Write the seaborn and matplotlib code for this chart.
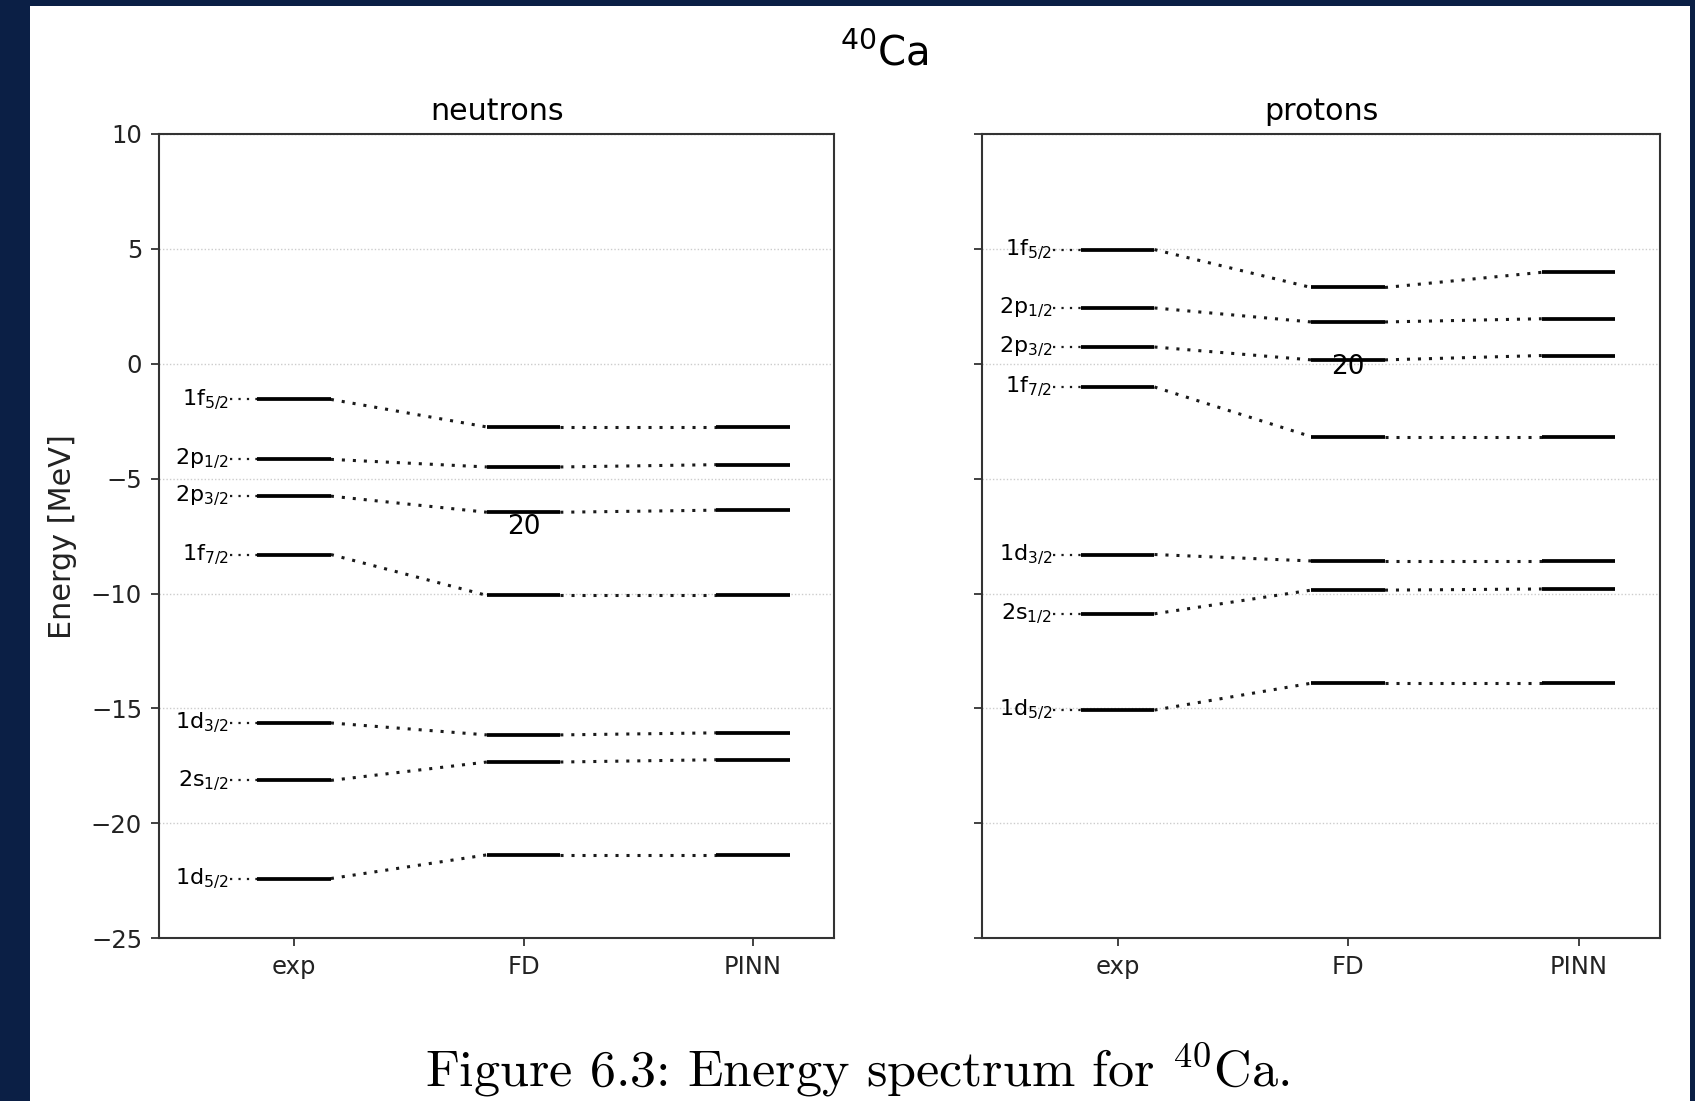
import numpy as np
import pandas as pd
import matplotlib
matplotlib.use("Agg")
import matplotlib.pyplot as plt
import seaborn as sns
from matplotlib.patches import Rectangle

# ---------------- data ----------------
methods = ["exp", "FD", "PINN"]
levels = [r"1f$_{5/2}$", r"2p$_{1/2}$", r"2p$_{3/2}$", r"1f$_{7/2}$",
          r"1d$_{3/2}$", r"2s$_{1/2}$", r"1d$_{5/2}$"]

neutron_exp = [-1.55, -4.16, -5.76, -8.30, -15.63, -18.13, -22.40]
neutron_fd = [-2.75, -4.49, -6.46, -10.08, -16.15, -17.33, -21.37]
neutron_pinn = [-2.75, -4.39, -6.37, -10.08, -16.06, -17.23, -21.37]

proton_exp = [4.97, 2.43, 0.73, -1.01, -8.30, -10.88, -15.07]
proton_fd = [3.32, 1.82, 0.17, -3.17, -8.58, -9.85, -13.90]
proton_pinn = [3.98, 1.96, 0.36, -3.17, -8.58, -9.80, -13.90]

magic_label = "20"
magic_y = {"neutrons": -7.1, "protons": -0.15}

panels = {
    "neutrons": [neutron_exp, neutron_fd, neutron_pinn],
    "protons": [proton_exp, proton_fd, proton_pinn],
}

# ---------------- style ----------------
sns.set_theme(style="white")
plt.rcParams["font.family"] = ["DejaVu Sans"]
plt.rcParams["axes.unicode_minus"] = True
plt.rcParams["text.color"] = "black"
plt.rcParams["xtick.color"] = "black"
plt.rcParams["ytick.color"] = "black"
plt.rcParams["axes.labelcolor"] = "black"

W, H = 1695, 1101
fig = plt.figure(figsize=(W / 100, H / 100), dpi=100)
fig.patch.set_facecolor("#0b1f45")
fig.patches.append(Rectangle((30 / W, 0), (1690 - 30) / W, 1 - 6 / H,
                             transform=fig.transFigure, facecolor="white",
                             edgecolor="none", zorder=-10))

ax_l = fig.add_axes([0.0937, 0.1478, 0.4923 - 0.0937, 0.8783 - 0.1478])
ax_r = fig.add_axes([0.5791, 0.1478, 0.9796 - 0.5791, 0.8783 - 0.1478], sharey=ax_l)

HW = 0.16  # half width of a level bar

for ax, (name, series) in zip([ax_l, ax_r], panels.items()):
    ax.set_facecolor("white")
    seg_rows, con_rows = [], []
    for m, vals in enumerate(series):
        for k, e in enumerate(vals):
            seg_rows += [dict(x=m - HW, E=e, u=f"{m}-{k}"),
                         dict(x=m + HW, E=e, u=f"{m}-{k}")]
            if m > 0:
                con_rows += [dict(x=m - 1 + HW, E=series[m - 1][k], u=f"{m}-{k}"),
                             dict(x=m - HW, E=e, u=f"{m}-{k}")]
    seg = pd.DataFrame(seg_rows)
    con = pd.DataFrame(con_rows)
    sns.lineplot(data=con, x="x", y="E", units="u", estimator=None, sort=False,
                 color="#1a1a1a", lw=2.2, linestyle=(0, (1, 2.6)), ax=ax,
                 legend=False)
    sns.lineplot(data=seg, x="x", y="E", units="u", estimator=None, sort=False,
                 color="black", lw=2.7, ax=ax, legend=False,
                 solid_capstyle="butt")
    for k, e in enumerate(series[0]):
        ax.plot([-0.28, -HW], [e, e], color="#1a1a1a", lw=1.6,
                linestyle=(0, (1, 2.8)))
        ax.text(-0.285, e, levels[k], ha="right", va="center", fontsize=16)
    ax.text(1, magic_y[name], magic_label, ha="center", va="center", fontsize=19)

    ax.set_xlim(-0.59, 2.355)
    ax.set_ylim(-25, 10)
    ax.set_xticks(range(len(methods)))
    ax.set_xticklabels(methods)
    ax.set_yticks([10, 5, 0, -5, -10, -15, -20, -25])
    ax.set_xlabel("")
    ax.set_ylabel("")
    ax.set_title(name, fontsize=21.7, pad=10)
    ax.yaxis.grid(True, color="#cccccc", linestyle=(0, (1, 1.5)), lw=1.0)
    ax.xaxis.grid(False)
    ax.set_axisbelow(True)
    for sp in ax.spines.values():
        sp.set_color("#333333")
        sp.set_linewidth(1.5)
        sp.set_visible(True)
    ax.tick_params(axis="both", which="major", direction="out", length=6,
                   width=1.3, color="#333333", labelsize=17.5, labelcolor="#222222",
                   left=True, bottom=True, pad=6)

ax_r.tick_params(labelleft=False)
ax_l.set_ylabel("Energy [MeV]", fontsize=21.8, labelpad=10, color="#222222")

fig.text(884 / W, 1 - 65 / H, r"$^{40}$Ca", ha="center", va="baseline",
         fontsize=29)
fig.text(857 / W, 1 - 1087 / H, r"Figure 6.3: Energy spectrum for $^{40}$Ca.",
         ha="center", va="baseline", fontsize=37.5, family="cmr10",
         math_fontfamily="cm")

fig.savefig("out.png", dpi=100, facecolor=fig.get_facecolor())
